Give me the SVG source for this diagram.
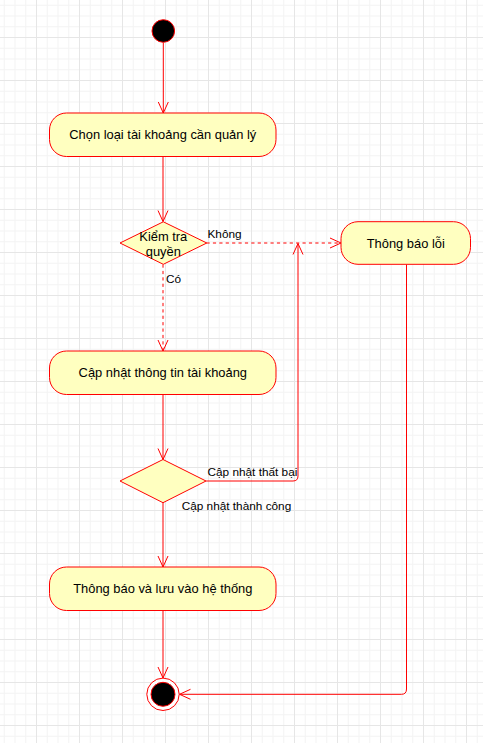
<svg xmlns="http://www.w3.org/2000/svg" width="483" height="743" viewBox="0 0 483 743">
  <defs>
    <pattern id="minor" x="36" y="37" width="10.75" height="10.75" patternUnits="userSpaceOnUse">
      <path d="M0.5 0V10.75M0 0.5H10.75" stroke="#f3f3f3" stroke-width="1" fill="none"/>
    </pattern>
    <pattern id="major" x="36" y="37" width="43" height="43" patternUnits="userSpaceOnUse">
      <path d="M0.5 0V43M0 0.5H43" stroke="#e6e6e6" stroke-width="1" fill="none"/>
    </pattern>
    <marker id="arr" markerUnits="userSpaceOnUse" markerWidth="14" markerHeight="14" refX="12" refY="7" orient="auto" overflow="visible">
      <path d="M1 2 L12 7 L1 12" fill="none" stroke="#ff0000" stroke-width="1"/>
    </marker>
    <style>
      .node { fill: #ffffc0; stroke: #ff0000; stroke-width: 1; }
      .edge { fill: none; stroke: #ff0000; stroke-width: 1; }
      .dash { stroke-dasharray: 3.2 3.2; }
      .t { font-family: "Liberation Sans", Arial, sans-serif; font-size: 12.9px; fill: #000000; text-anchor: middle; }
      .lbl { font-family: "Liberation Sans", Arial, sans-serif; font-size: 11.8px; fill: #000000; }
    </style>
  </defs>
  <rect width="483" height="743" fill="#ffffff"/>
  <rect width="483" height="743" fill="url(#minor)"/>
  <rect width="483" height="743" fill="url(#major)"/>

  <g id="connectors">
    <path class="edge" d="M163.3 42.5V113" marker-end="url(#arr)"/>
    <path class="edge" d="M163 156.5V221.5" marker-end="url(#arr)"/>
    <path class="edge dash" d="M163 264.5V351" marker-end="url(#arr)"/>
    <path class="edge dash" d="M206.5 243H341" marker-end="url(#arr)"/>
    <path class="edge" d="M163 394.5V459.5" marker-end="url(#arr)"/>
    <path class="edge" d="M206 481H293Q298 481 298 476V243.5" marker-end="url(#arr)"/>
    <path class="edge" d="M163 502.5V567" marker-end="url(#arr)"/>
    <path class="edge" d="M163 610.5V678" marker-end="url(#arr)"/>
    <path class="edge" d="M406.5 264.5V689Q406.5 694.3 401.5 694.3H179.5" marker-end="url(#arr)"/>
    <text class="lbl" x="207.5" y="237.6">Không</text>
    <text class="lbl" x="166" y="283.2">Có</text>
    <text class="lbl" x="207.5" y="475.8">Cập nhật thất bại</text>
    <text class="lbl" x="181.7" y="509.8">Cập nhật thành công</text>
  </g>

  <g id="start">
    <circle cx="163.3" cy="31" r="11.3" fill="#000000" stroke="#ff0000" stroke-width="1"/>
  </g>

  <g id="chon-loai">
    <rect class="node" x="49.5" y="113" width="226.5" height="43.5" rx="17" ry="17"/>
    <text class="t" x="162.8" y="139.3">Chọn loại tài khoảng cần quản lý</text>
  </g>

  <g id="kiem-tra">
    <polygon class="node" points="120,243 163.3,221.8 206.8,243 163.3,264.3"/>
    <text class="t" x="163.3" y="240.5">Kiểm tra</text>
    <text class="t" x="163.3" y="256">quyền</text>
  </g>

  <g id="thong-bao-loi">
    <rect class="node" x="341" y="221.7" width="129.5" height="42.6" rx="17" ry="17"/>
    <text class="t" x="405.8" y="247.5">Thông báo lỗi</text>
  </g>

  <g id="cap-nhat">
    <rect class="node" x="49.5" y="351" width="226.5" height="43.5" rx="17" ry="17"/>
    <text class="t" x="162.8" y="377.3">Cập nhật thông tin tài khoảng</text>
  </g>

  <g id="kiem-tra-cap-nhat">
    <polygon class="node" points="120,481 163,459.5 206,481 163,502.7"/>
  </g>

  <g id="thong-bao-luu">
    <rect class="node" x="49.5" y="567" width="226.5" height="43.5" rx="17" ry="17"/>
    <text class="t" x="162.8" y="593.3">Thông báo và lưu vào hệ thống</text>
  </g>

  <g id="end">
    <circle cx="163" cy="694.3" r="16.2" fill="#ffffff" stroke="#ff0000" stroke-width="1"/>
    <circle cx="163" cy="694.3" r="12" fill="#000000" stroke="#ff0000" stroke-width="1"/>
  </g>
</svg>
